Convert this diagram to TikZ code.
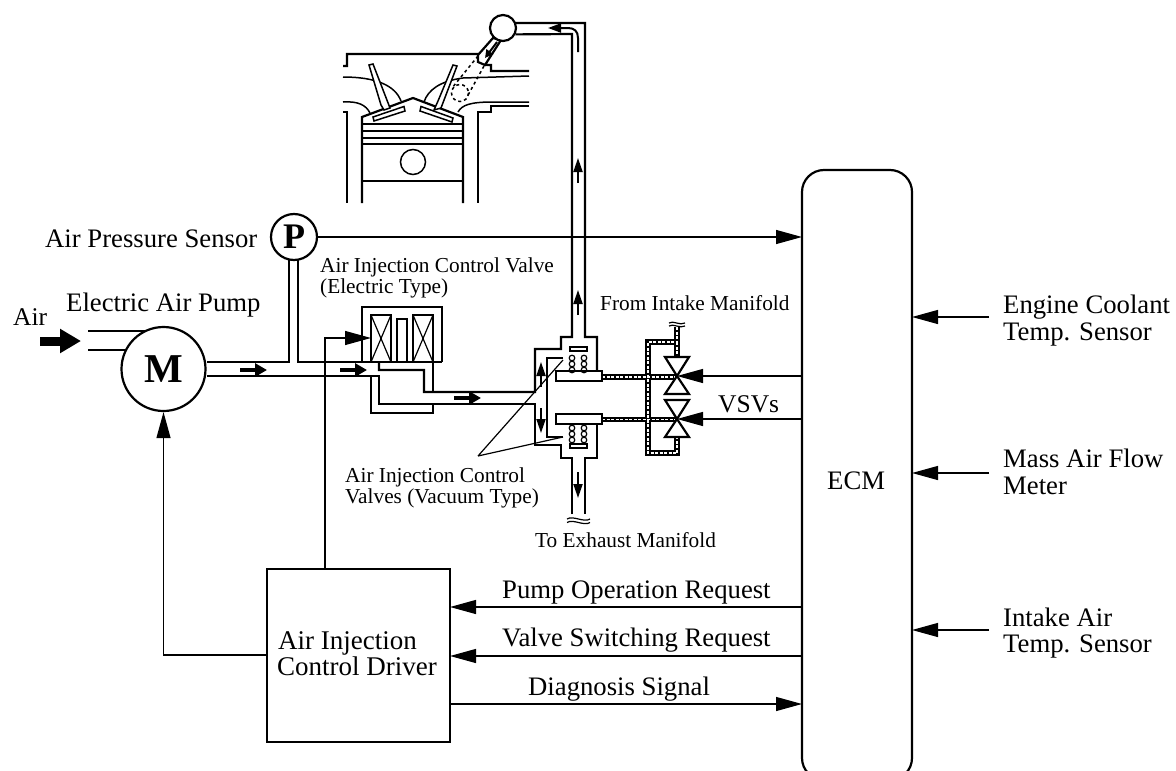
\documentclass[tikz,border=0pt]{standalone}
\usepackage{fontspec}
\setmainfont{Liberation Serif}
\usetikzlibrary{arrows.meta}
\tikzset{
 thick line/.style={line width=2.2pt,line join=miter},
 thin line/.style={line width=1.2pt},
 med line/.style={line width=1.5pt},
 sig/.style={line width=1.2pt,-{Triangle[length=26pt,width=14pt]}},
 flow/.style={line width=4.5pt,-{Triangle[length=12pt,width=13pt]}},
 slim/.style={line width=2pt,-{Triangle[length=14pt,width=9pt]}},
 big/.style={font=\fontsize{26.7}{28}\selectfont,inner sep=0pt},
 mid/.style={font=\fontsize{25.5}{27}\selectfont,inner sep=0pt},
 small/.style={font=\fontsize{21.3}{23}\selectfont,inner sep=0pt},
 vac/.style={line width=5.5pt,black},
 vacw/.style={line width=1.6pt,white,dash pattern=on 3pt off 1.5pt},
}
\begin{document}
\begin{tikzpicture}[x=1pt,y=-1pt]
\useasboundingbox (0,0) rectangle (1176,771);
\fill[white] (0,0) rectangle (1176,771);
% --- engine ---
\begin{scope}[thick line]
\draw (343,66)--(347,66)--(347,54)--(478,54)--(487,65)--(491,65)--(491,71)--(529,71);
\draw (343,112)--(347,112)--(347,203);
\draw (529,106)--(491,106)--(491,112)--(478,112)--(478,203);
\draw[med line] (343,77) .. controls (375,77) and (395,85) .. (401,101);
\draw[med line] (529,76)--(463,78) .. controls (440,81) and (428,90) .. (424,102);
\draw[med line] (343,102) .. controls (358,101) and (366,105) .. (370,113);
\draw[med line] (529,102)--(493,102) .. controls (470,102) and (462,105) .. (458,112);
\draw (362,203)--(362,117)--(413,98)--(463,117)--(463,203);
\draw[med line] (362,124)--(463,124) (362,131)--(463,131) (362,138)--(463,138) (362,144)--(463,144);
\draw (362,181)--(463,181);
\end{scope}
\node[draw,circle,med line,minimum size=25pt,inner sep=0pt] (pin) at (413,162) {};
% valves
\begin{scope}[med line,fill=white]
\filldraw (369,65)--(373,64)--(390,108)--(384,110)--(381,105)--cycle;
\filldraw (373,117)--(404,106.5)--(405,111)--(374,121)--cycle;
\filldraw (453,65)--(457,66)--(441,108)--(434,110)--(438,101)--cycle;
\filldraw (421,106.5)--(453,118)--(452,122)--(420,111)--cycle;
\end{scope}
% injector
\draw[med line,dashed] (478,56)--(452,88) (484,66)--(467,97);
\draw[med line,dashed] (460,93) circle (8.5);
\filldraw[thick line,fill=white] (493,38)--(478,55)--(478,62)--(485,65)--(501,40)--cycle;
\draw[line width=2pt,-{Triangle[length=8pt,width=8pt]}] (497,42)--(485,58);
\node[draw,circle,thick line,fill=white,minimum size=26pt,inner sep=0pt] (ball) at (503,28) {};
% --- main pipes ---
\begin{scope}[thick line]
\draw (ball.21)--(585,23)--(585,337)--(597,337)--(597,371);
\draw (ball.-27)--(572,34)--(572,337)--(561,337)--(561,349)--(535,349)--(535,392)--(424,392)--(424,370)--(379,370)--(379,362);
\draw (597,424)--(597,458)--(585,458)--(585,514);
\draw (572,514)--(572,458)--(561,458)--(561,445)--(535,445)--(535,404)--(379,404)--(379,376)--(207,376);
\draw (563,358)--(547,358)--(547,437)--(563,437);
\draw (433,362)--(433,392);
\draw (371,376)--(371,413)--(433,413)--(433,404);
\end{scope}
% flow arrows in pipes
\draw[line width=2pt,-{Triangle[length=13pt,width=9pt]}] (578,52)--(578,38) .. controls (578,31) and (574,28) .. (568,28)--(548,28);
\draw[slim] (578,183)--(578,158);
\draw[slim] (578,315)--(578,290);
\draw[slim] (541,387)--(541,362);
\draw[slim] (541,408)--(541,433);
\draw[slim] (578,472)--(578,498);
% wavy breaks
\draw[thin line] (567,519) .. controls (573,515) and (584,523) .. (590,519)
                 (567,522.5) .. controls (573,518.5) and (584,526.5) .. (590,522.5);
% --- vacuum tubes ---
\draw[vac] (677,327)--(677,342)--(648,342)--(648,453)--(677,453)--(677,437);
\draw[vac] (677,342)--(677,357);
\draw[vac] (602,377)--(677,377);
\draw[vac] (602,419.5)--(677,419.5);
\draw[vacw] (677,327)--(677,342)--(648,342)--(648,453)--(677,453)--(677,437);
\draw[vacw] (677,342)--(677,357);
\draw[vacw] (602,377)--(675,377);
\draw[vacw] (602,419.5)--(675,419.5);
\draw[thin line] (669,323) .. controls (673,320) and (680,326) .. (685,323)
                 (669,326) .. controls (673,323) and (680,329) .. (685,326);
% VSV triangles
\begin{scope}[thick line,fill=white]
\filldraw (665,357)--(689,357)--(677,376)--cycle;
\filldraw (665,394)--(689,394)--(677,376)--cycle;
\filldraw (665,400)--(689,400)--(677,419)--cycle;
\filldraw (665,437)--(689,437)--(677,419)--cycle;
\end{scope}
% plungers and springs
\draw[thick line,fill=white] (556,371) rectangle (602,381);
\draw[thick line,fill=white] (556,414) rectangle (602,424);
\foreach \y in {358,364,370}{\draw[line width=1.2pt] (572,\y) circle (2.8) (584,\y) circle (2.8);}
\foreach \y in {428,434,440}{\draw[line width=1.2pt] (572,\y) circle (2.8) (584,\y) circle (2.8);}
\draw[med line,fill=white] (570,347) rectangle (587,351);
\draw[med line,fill=white] (570,444) rectangle (587,448);
% --- air inlet, pump ---
\draw[thick line] (88,331)--(147,331) (88,350)--(125,350);
\draw[line width=9pt,-{Triangle[length=21pt,width=23pt]}] (40,341)--(81,341);
\node[draw,circle,thick line,fill=white,minimum size=84pt,inner sep=0pt,font=\fontsize{41}{42}\selectfont\bfseries] (M) at (163.5,369) {M};
\node[draw,circle,thick line,fill=white,minimum size=46pt,inner sep=0pt,font=\fontsize{36}{38}\selectfont\bfseries] (P) at (294,237) {P};
\begin{scope}[thick line]
\draw (M.east |- 0,362)--(289,362)--(289,259);
\draw (298,259)--(298,362)--(442,362);
\end{scope}
\draw[thick line] (362,362)--(362,307)--(442,307)--(442,362);
\draw[med line] (371,362)--(371,315)--(391,315)--(391,362)
  (413,362)--(413,315)--(433,315)--(433,362);
\draw[thin line] (371,315)--(391,362) (391,315)--(371,362) (413,315)--(433,362) (433,315)--(413,362);
\draw[thick line] (397,362)--(397,319)--(407,319)--(407,362);
\draw[flow] (240,370)--(267,370);
\draw[flow] (340,370)--(367,370);
\draw[flow] (454,398)--(481,398);
% pointers
\coordinate (apex) at (478,456);
\draw[thin line] (apex)--(563,360) (apex)--(563,437);
% --- ECM and driver ---
\node[draw,thick line,outer sep=0pt,rounded corners=22pt,minimum width=110pt,minimum height=610pt,inner sep=0pt,anchor=north west] (ECM) at (802,170) {};
\node[big,anchor=base west] at (827,489) {ECM};
\node[draw,thick line,outer sep=0pt,minimum width=183pt,minimum height=173pt,inner sep=0pt,anchor=north west] (drv) at (267,569) {};
\node[font=\fontsize{27}{28}\selectfont,inner sep=0pt,anchor=base west] at (278,649) {Air Injection};
\node[font=\fontsize{27}{28}\selectfont,inner sep=0pt,anchor=base west] at (277,675) {Control Driver};
% --- signals ---
\coordinate (e1) at (802,237); \coordinate (e2) at (802,376); \coordinate (e3) at (802,419);
\draw[sig] (P.east |- e1)--(e1);
\coordinate (vIn) at (371,338);
\draw[sig] (drv.north -| 325,0)--(325,338)--(vIn);
\draw[sig] (drv.west |- 0,655)--(163.5,655)--(M.south);
\coordinate (vs1) at (677,376); \coordinate (vs2) at (677,419);
\draw[sig] (e2)--(vs1);
\draw[sig] (e3)--(vs2);
\coordinate (r1) at (802,607); \coordinate (r2) at (802,656); \coordinate (r3) at (802,704);
\draw[sig] (r1)--(r1 -| drv.east);
\draw[sig] (r2)--(r2 -| drv.east);
\draw[sig] (r3 -| drv.east)--(r3);
\coordinate (s1) at (989,317); \coordinate (s2) at (989,473); \coordinate (s3) at (989,630);
\draw[sig] (s1)--(s1 -| ECM.east);
\draw[sig] (s2)--(s2 -| ECM.east);
\draw[sig] (s3)--(s3 -| ECM.east);
% --- labels ---
\node[big,anchor=base west] at (45,247) {Air Pressure Sensor};
\node[big,anchor=base west] at (66,311) {Electric Air Pump};
\node[mid,anchor=base west] at (13,325) {Air};
\node[small,anchor=base west] at (320,272) {Air Injection Control Valve};
\node[small,anchor=base west] at (320,293) {(Electric Type)};
\node[small,anchor=base west] at (600,310) {From Intake Manifold};
\node[mid,anchor=base west] at (718,412) {VSVs};
\node[small,anchor=base west] at (345,482) {Air Injection Control};
\node[small,anchor=base west] at (345,503) {Valves (Vacuum Type)};
\node[small,anchor=base west] at (535,547) {To Exhaust Manifold};
\node[big,anchor=base west] at (502,598) {Pump Operation Request};
\node[big,anchor=base west] at (502,646) {Valve Switching Request};
\node[big,anchor=base west] at (528,695) {Diagnosis Signal};
\node[big,anchor=base west] at (1003,313) {Engine Coolant};
\node[big,anchor=base west] at (1003,340) {Temp. Sensor};
\node[big,anchor=base west] at (1003,467) {Mass Air Flow};
\node[big,anchor=base west] at (1003,494) {Meter};
\node[big,anchor=base west] at (1003,626) {Intake Air};
\node[big,anchor=base west] at (1003,652) {Temp. Sensor};
\end{tikzpicture}
\end{document}
